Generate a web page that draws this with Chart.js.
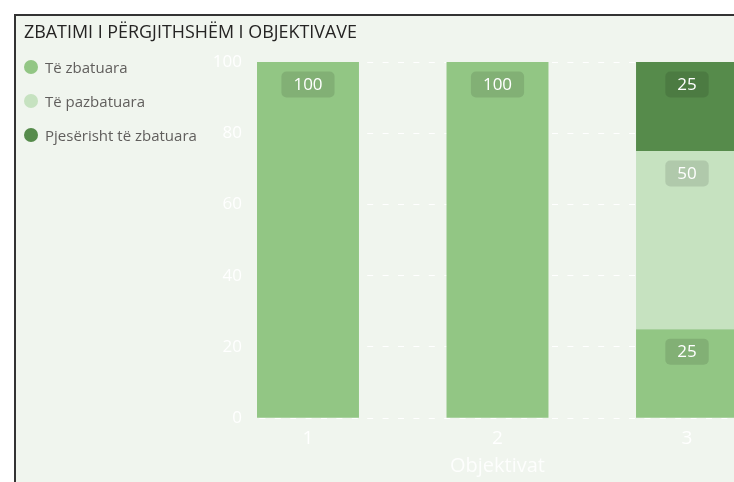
<!DOCTYPE html>
<html>
<head>
<meta charset="utf-8">
<script src="https://cdn.jsdelivr.net/npm/chart.js@4.4.1/dist/chart.umd.min.js"></script>
<style>
  html, body { margin: 0; padding: 0; background: #ffffff; overflow: hidden; width: 734px; height: 482px; }
  #card { position: absolute; left: 14px; top: 14px; width: 800px; height: 520px;
          border-left: 2px solid #333; border-top: 2px solid #333; background: #f0f5ee;
          font-family: "Open Sans", "Segoe UI", sans-serif; }
  #title { position: absolute; left: 8px; top: 3px; font-size: 17.9px; color: #252423; white-space: nowrap; }
  #legend { position: absolute; left: 8px; top: 34px; margin: 0; padding: 0; list-style: none; }
  #legend li { height: 34px; display: flex; align-items: center; font-size: 15px; color: #605e5c; white-space: nowrap; }
  #legend .dot { width: 14px; height: 14px; border-radius: 50%; margin-right: 7px; flex: none; }
  #plot { position: absolute; left: 0; top: 0; }
</style>
</head>
<body>
<div id="card">
  <canvas id="plot" width="740" height="482"></canvas>
  <div id="title"></div>
  <ul id="legend"></ul>
</div>
<script>
// Objectives on the x axis and the share (%) of measures in each status
const chartTitle = 'ZBATIMI I PËRGJITHSHËM I OBJEKTIVAVE';
const axisTitle = 'Objektivat';
const objectives = ['1', '2', '3'];
const seriesNames = ['Të zbatuara', 'Të pazbatuara', 'Pjesërisht të zbatuara'];
const implemented = [100, 100, 25];
const notImplemented = [0, 0, 50];
const partlyImplemented = [0, 0, 25];
const yTicks = [0, 20, 40, 60, 80, 100];

const seriesColors = ['#92c684', '#c6e2c0', '#568b4b'];
const seriesValues = [implemented, notImplemented, partlyImplemented];

// Title and legend as page text
document.getElementById('title').textContent = chartTitle;
const legendEl = document.getElementById('legend');
seriesNames.forEach((name, i) => {
  const li = document.createElement('li');
  const dot = document.createElement('span');
  dot.className = 'dot';
  dot.style.background = seriesColors[i];
  li.appendChild(dot);
  li.appendChild(document.createTextNode(name));
  legendEl.appendChild(li);
});

const FONT = '"Open Sans", "Segoe UI", sans-serif';

// Value badges: rounded translucent box near the top of each segment
const badgePlugin = {
  id: 'badges',
  afterDatasetsDraw(chart) {
    const ctx = chart.ctx;
    ctx.save();
    ctx.font = '17px ' + FONT;
    ctx.textAlign = 'center';
    ctx.textBaseline = 'middle';
    chart.data.datasets.forEach((ds, di) => {
      const meta = chart.getDatasetMeta(di);
      meta.data.forEach((bar, i) => {
        const v = ds.data[i].y;
        if (!v) return;
        const text = String(v);
        const w = ctx.measureText(text).width + 24;
        const h = 26;
        const top = Math.min(bar.y, bar.base) + 9.5;
        const x = bar.x - w / 2;
        ctx.fillStyle = 'rgba(0,0,0,0.11)';
        ctx.beginPath();
        ctx.roundRect(x, top, w, h, 5);
        ctx.fill();
        ctx.fillStyle = '#ffffff';
        ctx.fillText(text, bar.x, top + h / 2 + 0.5);
      });
    });
    ctx.restore();
  }
};

new Chart(document.getElementById('plot'), {
  type: 'bar',
  data: {
    datasets: seriesNames.map((name, s) => ({
      label: name,
      data: objectives.map((o, i) => ({ x: i + 1, y: seriesValues[s][i] })),
      backgroundColor: seriesColors[s],
      borderWidth: 0,
      grouped: false,
      barPercentage: 0.538,
      categoryPercentage: 1
    }))
  },
  options: {
    responsive: false,
    animation: false,
    layout: { padding: { left: 198, right: 11, top: 46, bottom: 0 } },
    plugins: {
      legend: { display: false },
      title: { display: false },
      tooltip: { enabled: false }
    },
    scales: {
      x: {
        type: 'linear',
        offset: false,
        min: 0.694,
        max: 3.306,
        grid: { display: false, drawTicks: false, offset: false },
        border: { display: false },
        afterBuildTicks: (scale) => {
          scale.ticks = objectives.map((o, i) => ({ value: i + 1 }));
        },
        ticks: {
          color: 'rgba(255,255,255,0.95)',
          font: { family: FONT, size: 19 },
          padding: 9,
          callback: (v) => objectives[Math.round(v) - 1]
        },
        title: {
          display: true,
          text: axisTitle,
          color: 'rgba(255,255,255,0.85)',
          font: { family: FONT, size: 20 },
          padding: { top: -5, bottom: 20 }
        }
      },
      y: {
        stacked: true,
        min: 0,
        max: 100,
        afterBuildTicks: (scale) => {
          scale.ticks = yTicks.map((v) => ({ value: v }));
        },
        afterFit: (scale) => { scale.width = 36; },
        grid: {
          color: 'rgba(255,255,255,0.95)',
          lineWidth: 1,
          drawTicks: false
        },
        border: { display: false, dash: [6, 9.4], dashOffset: 6 },
        ticks: {
          color: 'rgba(255,255,255,0.95)',
          font: { family: FONT, size: 17 },
          padding: 8
        }
      }
    }
  },
  plugins: [badgePlugin]
});
</script>
</body>
</html>
